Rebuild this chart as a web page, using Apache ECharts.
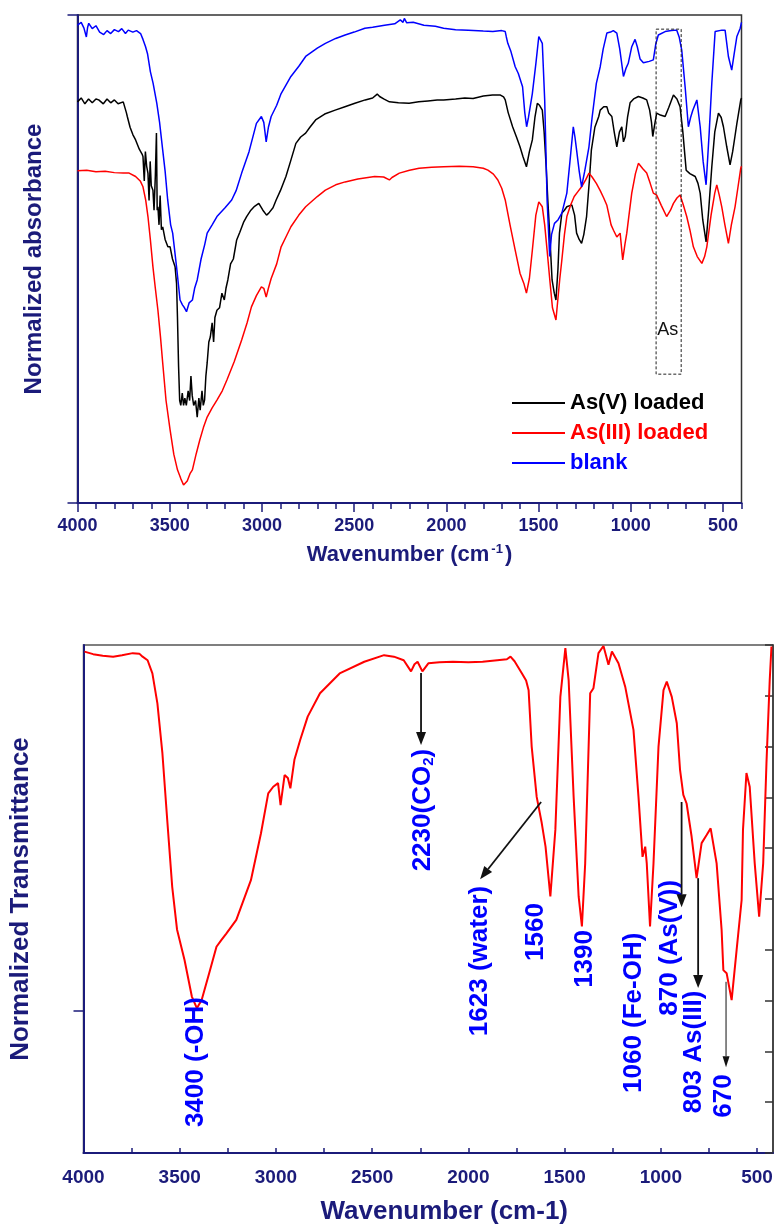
<!DOCTYPE html>
<html><head><meta charset="utf-8">
<script src="https://cdn.jsdelivr.net/npm/echarts@6/dist/echarts.min.js"></script>
<style>html,body{margin:0;padding:0;background:#fff}#c{width:774px;height:1230px}</style>
</head><body><div id="c"></div>
<script>
// ---------- DATA (wavenumber cm-1, normalized value) ----------
const asVLoaded = [[4000,0.822],[3980,0.830],[3960,0.818],[3940,0.828],[3920,0.820],[3900,0.828],[3885,0.826],[3860,0.818],[3840,0.828],[3820,0.820],[3800,0.826],[3780,0.818],[3752,0.822],[3742,0.825],[3735,0.80],[3730,0.792],[3715,0.77],[3700,0.755],[3685,0.744],[3665,0.725],[3650,0.715],[3645,0.710],[3638,0.66],[3632,0.72],[3625,0.69],[3618,0.676],[3612,0.62],[3606,0.70],[3600,0.65],[3591,0.641],[3585,0.60],[3578,0.67],[3572,0.758],[3568,0.60],[3564,0.607],[3558,0.57],[3552,0.63],[3545,0.56],[3538,0.566],[3525,0.54],[3510,0.525],[3498,0.525],[3485,0.50],[3471,0.484],[3463,0.45],[3458,0.38],[3452,0.28],[3446,0.21],[3440,0.20],[3432,0.225],[3425,0.20],[3418,0.215],[3410,0.20],[3400,0.23],[3392,0.21],[3385,0.26],[3378,0.22],[3370,0.20],[3360,0.21],[3351,0.176],[3342,0.215],[3335,0.19],[3325,0.23],[3318,0.20],[3311,0.211],[3304,0.26],[3297,0.287],[3288,0.33],[3280,0.34],[3270,0.369],[3262,0.33],[3255,0.38],[3244,0.395],[3230,0.40],[3217,0.430],[3204,0.416],[3195,0.44],[3185,0.457],[3170,0.49],[3155,0.50],[3137,0.539],[3120,0.555],[3100,0.575],[3083,0.587],[3060,0.60],[3040,0.608],[3017,0.614],[2995,0.60],[2975,0.59],[2963,0.594],[2940,0.605],[2923,0.621],[2900,0.64],[2870,0.669],[2845,0.70],[2816,0.737],[2790,0.75],[2763,0.758],[2740,0.77],[2709,0.785],[2660,0.797],[2603,0.805],[2550,0.812],[2496,0.819],[2440,0.826],[2400,0.830],[2375,0.838],[2362,0.833],[2340,0.828],[2309,0.822],[2260,0.820],[2202,0.819],[2150,0.822],[2100,0.824],[2050,0.826],[2015,0.826],[1950,0.828],[1900,0.830],[1855,0.829],[1800,0.834],[1750,0.836],[1707,0.836],[1690,0.832],[1681,0.826],[1665,0.80],[1641,0.771],[1620,0.75],[1601,0.730],[1585,0.71],[1566,0.689],[1550,0.72],[1534,0.744],[1520,0.79],[1507,0.819],[1495,0.815],[1480,0.805],[1470,0.76],[1459,0.689],[1450,0.62],[1440,0.553],[1427,0.457],[1415,0.43],[1406,0.416],[1395,0.48],[1387,0.553],[1374,0.594],[1360,0.60],[1347,0.607],[1320,0.611],[1305,0.59],[1294,0.553],[1280,0.54],[1267,0.532],[1255,0.55],[1240,0.587],[1225,0.66],[1214,0.723],[1195,0.77],[1174,0.792],[1166,0.805],[1147,0.812],[1130,0.812],[1120,0.799],[1103,0.792],[1090,0.76],[1076,0.730],[1062,0.76],[1049,0.771],[1040,0.74],[1030,0.751],[1018,0.79],[1004,0.820],[985,0.828],[959,0.833],[935,0.83],[914,0.826],[898,0.805],[888,0.78],[881,0.751],[873,0.77],[860,0.799],[840,0.795],[814,0.792],[795,0.81],[769,0.836],[750,0.828],[733,0.812],[718,0.76],[700,0.682],[680,0.675],[651,0.669],[636,0.655],[624,0.635],[610,0.58],[592,0.535],[578,0.60],[561,0.689],[545,0.76],[525,0.799],[510,0.79],[498,0.771],[480,0.73],[462,0.693],[448,0.72],[436,0.75],[425,0.778],[404,0.826],[400,0.83]];

const asIIILoaded = [[4000,0.681],[3950,0.682],[3900,0.679],[3850,0.680],[3800,0.677],[3752,0.676],[3720,0.676],[3685,0.669],[3660,0.66],[3645,0.648],[3630,0.62],[3618,0.587],[3605,0.54],[3591,0.484],[3578,0.44],[3564,0.395],[3550,0.34],[3538,0.287],[3520,0.21],[3498,0.150],[3478,0.10],[3458,0.068],[3440,0.05],[3425,0.037],[3417,0.033],[3405,0.045],[3390,0.06],[3377,0.068],[3357,0.10],[3337,0.129],[3317,0.155],[3297,0.176],[3270,0.195],[3244,0.211],[3215,0.23],[3190,0.252],[3150,0.29],[3110,0.334],[3080,0.37],[3057,0.402],[3030,0.425],[3003,0.443],[2990,0.44],[2977,0.422],[2965,0.44],[2950,0.46],[2920,0.49],[2896,0.525],[2870,0.545],[2843,0.566],[2800,0.59],[2763,0.607],[2700,0.628],[2656,0.641],[2600,0.652],[2549,0.658],[2480,0.664],[2389,0.669],[2340,0.668],[2309,0.662],[2295,0.667],[2255,0.676],[2200,0.682],[2148,0.686],[2080,0.688],[2015,0.689],[1930,0.690],[1855,0.689],[1800,0.686],[1775,0.682],[1745,0.674],[1721,0.662],[1700,0.645],[1681,0.621],[1655,0.57],[1627,0.518],[1601,0.471],[1580,0.45],[1566,0.430],[1550,0.46],[1534,0.518],[1515,0.59],[1499,0.617],[1490,0.615],[1480,0.607],[1467,0.57],[1454,0.518],[1440,0.46],[1425,0.40],[1406,0.375],[1395,0.42],[1385,0.46],[1374,0.498],[1360,0.55],[1347,0.587],[1327,0.61],[1307,0.628],[1287,0.638],[1267,0.648],[1245,0.662],[1227,0.676],[1210,0.668],[1187,0.655],[1166,0.64],[1147,0.625],[1130,0.61],[1107,0.57],[1094,0.559],[1076,0.545],[1058,0.553],[1044,0.498],[1032,0.53],[1022,0.553],[1010,0.59],[995,0.635],[975,0.675],[959,0.696],[935,0.685],[914,0.676],[895,0.655],[878,0.635],[860,0.631],[835,0.61],[806,0.587],[785,0.60],[769,0.614],[750,0.625],[733,0.631],[715,0.61],[697,0.587],[680,0.56],[661,0.525],[640,0.505],[615,0.491],[600,0.505],[588,0.525],[565,0.59],[545,0.635],[534,0.652],[520,0.63],[507,0.607],[490,0.57],[471,0.532],[455,0.57],[435,0.607],[420,0.645],[404,0.686],[400,0.69]];

const blank = [[4000,0.979],[3980,0.985],[3965,0.973],[3952,0.955],[3945,0.975],[3939,0.983],[3920,0.972],[3900,0.978],[3880,0.965],[3858,0.960],[3840,0.968],[3820,0.962],[3800,0.970],[3778,0.966],[3760,0.972],[3740,0.962],[3725,0.969],[3700,0.965],[3680,0.968],[3658,0.962],[3645,0.950],[3631,0.935],[3620,0.92],[3605,0.884],[3590,0.86],[3570,0.819],[3555,0.78],[3538,0.723],[3525,0.68],[3511,0.621],[3495,0.57],[3484,0.553],[3463,0.484],[3444,0.416],[3431,0.406],[3420,0.40],[3409,0.392],[3395,0.41],[3377,0.416],[3365,0.44],[3351,0.457],[3330,0.50],[3310,0.53],[3297,0.553],[3270,0.57],[3244,0.587],[3200,0.605],[3164,0.621],[3140,0.64],[3110,0.676],[3070,0.72],[3030,0.778],[3003,0.792],[2990,0.78],[2977,0.740],[2965,0.77],[2950,0.792],[2920,0.815],[2896,0.839],[2843,0.874],[2800,0.895],[2763,0.915],[2700,0.932],[2656,0.942],[2600,0.952],[2549,0.959],[2500,0.965],[2442,0.973],[2400,0.975],[2335,0.979],[2280,0.982],[2250,0.99],[2235,0.985],[2228,0.993],[2215,0.984],[2180,0.985],[2122,0.979],[2060,0.977],[2015,0.973],[1950,0.970],[1881,0.969],[1800,0.967],[1748,0.966],[1700,0.968],[1681,0.966],[1675,0.955],[1667,0.942],[1650,0.925],[1627,0.894],[1610,0.880],[1587,0.853],[1575,0.80],[1565,0.771],[1555,0.79],[1534,0.839],[1515,0.90],[1499,0.956],[1490,0.952],[1480,0.942],[1467,0.826],[1454,0.621],[1440,0.505],[1430,0.55],[1414,0.573],[1395,0.58],[1374,0.594],[1347,0.635],[1330,0.70],[1312,0.771],[1303,0.75],[1294,0.723],[1280,0.68],[1267,0.648],[1250,0.68],[1227,0.730],[1210,0.79],[1187,0.860],[1166,0.894],[1150,0.93],[1130,0.963],[1110,0.965],[1095,0.968],[1076,0.963],[1060,0.93],[1040,0.874],[1027,0.89],[1014,0.901],[995,0.935],[977,0.95],[965,0.935],[950,0.91],[932,0.902],[900,0.905],[878,0.908],[865,0.94],[851,0.959],[814,0.966],[780,0.968],[751,0.969],[738,0.955],[724,0.928],[705,0.85],[688,0.771],[676,0.79],[664,0.805],[642,0.826],[624,0.771],[608,0.70],[592,0.652],[575,0.76],[561,0.860],[543,0.966],[506,0.969],[489,0.969],[471,0.915],[453,0.887],[440,0.92],[425,0.956],[407,0.973],[400,0.985]];

const treated = [[3995,0.987],[3950,0.982],[3900,0.979],[3846,0.977],[3800,0.980],[3744,0.984],[3710,0.983],[3693,0.977],[3667,0.970],[3642,0.944],[3616,0.885],[3590,0.787],[3565,0.656],[3539,0.524],[3514,0.440],[3475,0.380],[3437,0.308],[3411,0.285],[3386,0.301],[3347,0.354],[3309,0.406],[3284,0.419],[3258,0.432],[3206,0.459],[3130,0.537],[3078,0.629],[3040,0.708],[3014,0.721],[2989,0.728],[2976,0.685],[2955,0.744],[2938,0.738],[2925,0.718],[2904,0.774],[2874,0.813],[2835,0.859],[2771,0.905],[2669,0.944],[2541,0.967],[2438,0.980],[2387,0.977],[2336,0.970],[2298,0.948],[2280,0.962],[2264,0.967],[2239,0.948],[2208,0.964],[2150,0.966],[2080,0.967],[2000,0.966],[1926,0.967],[1850,0.970],[1800,0.972],[1781,0.977],[1760,0.968],[1723,0.945],[1700,0.930],[1687,0.911],[1671,0.800],[1645,0.701],[1619,0.650],[1599,0.603],[1574,0.505],[1548,0.636],[1522,0.898],[1496,0.994],[1479,0.931],[1453,0.701],[1427,0.505],[1410,0.446],[1393,0.570],[1367,0.905],[1350,0.915],[1324,0.984],[1298,0.998],[1272,0.961],[1254,0.987],[1220,0.964],[1185,0.918],[1142,0.833],[1116,0.701],[1095,0.583],[1081,0.603],[1073,0.570],[1056,0.446],[1038,0.570],[1012,0.800],[986,0.911],[969,0.928],[943,0.898],[917,0.846],[900,0.754],[883,0.705],[866,0.688],[840,0.623],[814,0.541],[788,0.610],[762,0.626],[741,0.639],[710,0.570],[684,0.439],[675,0.360],[658,0.354],[632,0.301],[606,0.400],[580,0.498],[573,0.636],[555,0.748],[538,0.721],[512,0.570],[489,0.465],[468,0.570],[451,0.767],[434,0.931],[425,0.997]];

const topLabelTicks = [500,1000,1500,2000,2500,3000,3500,4000];
const bottomTickVals = [500,750,1000,1250,1500,1750,2000,2250,2500,2750,3000,3250,3500,3750,4000];
const legendNames = ['As(V) loaded','As(III) loaded','blank'];

// annotation texts: [text, wavenumber, value] (bottom chart, label centres)
const peakLabels = [
  ['3400 (-OH)', 3415, 0.179],
  ['2230(CO{s|2})', 2235, 0.675],
  ['1623 (water)', 1939, 0.378],
  ['1560', 1648, 0.435],
  ['1390', 1393, 0.382],
  ['1060 (Fe-OH)', 1138, 0.276],
  ['870 (As(V))', 951, 0.404],
  ['803 As(III)', 827, 0.199],
  ['670', 671, 0.112]
];
// arrows: [fromWn, fromVal, toWn, toVal, thin]
const peakArrows = [
  [2246, 0.945, 2246, 0.803, 0],
  [1622, 0.691, 1939, 0.539, 0],
  [892, 0.691, 892, 0.484, 0],
  [806, 0.541, 806, 0.325, 0],
  [661, 0.337, 661, 0.169, 1]
];
const asBox = [863, 0.971, 727, 0.264];

// ---------- CHART ----------
const NAVY = '#1b1b7a';
const FONT = '"Liberation Sans", Arial, sans-serif';
const chart = echarts.init(document.getElementById('c'), null, {renderer:'canvas'});
const lbl = (size) => ({color: NAVY, fontFamily: FONT, fontWeight: 'bold', fontSize: size});
const plain = (v) => String(v);

chart.setOption({
  animation: false,
  backgroundColor: '#fff',
  grid: [
    {left: 77.5, top: 15, width: 664, height: 488, show: true, borderColor: '#333', borderWidth: 1.5, backgroundColor: 'transparent', outerBoundsMode: 'none', containLabel: false},
    {left: 83.5, top: 645, width: 689.5, height: 508, show: true, borderColor: '#555', borderWidth: 1.5, backgroundColor: 'transparent', outerBoundsMode: 'none', containLabel: false}
  ],
  legend: {
    data: [
      {name: legendNames[0], textStyle: {color: '#000'}},
      {name: legendNames[1], textStyle: {color: '#ff0000'}},
      {name: legendNames[2], textStyle: {color: '#0000ff'}}
    ],
    orient: 'vertical', left: 507, top: 387, itemWidth: 53, itemHeight: 2, itemGap: 8,
    icon: 'rect', selectedMode: false,
    textStyle: {fontFamily: FONT, fontWeight: 'bold', fontSize: 22}
  },
  xAxis: [
    {gridIndex: 0, type: 'value', min: 400, max: 4000, inverse: true, position: 'bottom',
     axisLine: {show: true, lineStyle: {color: NAVY, width: 2}},
     axisTick: {show: true, customValues: topLabelTicks, length: 9, lineStyle: {color: NAVY, width: 1.5}},
     axisLabel: {customValues: topLabelTicks, formatter: plain, margin: 14, ...lbl(18)},
     splitLine: {show: false},
     name: '{t|Wavenumber (cm}{s|-1}{t|)}', nameLocation: 'middle', nameGap: 40,
     nameTextStyle: {rich: {t: {...lbl(22)}, s: {...lbl(13), verticalAlign: 'top', padding: [0, 2, 10, 2]}}}},
    {gridIndex: 0, type: 'value', min: 400, max: 4000, interval: 100, inverse: true, position: 'bottom', offset: 0,
     axisLine: {show: false}, axisLabel: {show: false}, splitLine: {show: false},
     axisTick: {show: true, length: 6, lineStyle: {color: NAVY, width: 1.5}}},
    {gridIndex: 1, type: 'value', min: 417, max: 4000, inverse: true, position: 'bottom',
     axisLine: {show: true, lineStyle: {color: NAVY, width: 2}},
     axisTick: {show: true, inside: true, customValues: bottomTickVals, length: 5, lineStyle: {color: NAVY, width: 1.5}},
     axisLabel: {customValues: topLabelTicks, formatter: plain, margin: 15, ...lbl(19)},
     splitLine: {show: false},
     name: 'Wavenumber (cm-1)', nameLocation: 'middle', nameGap: 46,
     nameTextStyle: {...lbl(26), padding: [0, 0, 0, 32]}}
  ],
  yAxis: [
    {gridIndex: 0, type: 'value', min: 0, max: 1, interval: 1,
     axisLine: {show: true, lineStyle: {color: NAVY, width: 2}},
     axisTick: {show: true, length: 10, lineStyle: {color: NAVY, width: 1.5}},
     axisLabel: {show: false}, splitLine: {show: false},
     name: 'Normalized absorbance', nameLocation: 'middle', nameGap: 31, nameRotate: 90,
     nameTextStyle: lbl(24)},
    {gridIndex: 1, type: 'value', min: 0, max: 1,
     axisLine: {show: true, lineStyle: {color: NAVY, width: 2}},
     axisTick: {show: true, customValues: [0.28], length: 10, lineStyle: {color: NAVY, width: 1.5}},
     axisLabel: {show: false}, splitLine: {show: false},
     name: 'Normalized Transmittance', nameLocation: 'middle', nameGap: 50, nameRotate: 90,
     nameTextStyle: lbl(26)},
    {gridIndex: 1, type: 'value', min: 0, max: 1, interval: 0.1, position: 'right',
     axisLine: {show: true, lineStyle: {color: '#333', width: 1.5}},
     axisTick: {show: true, inside: true, length: 8, lineStyle: {color: '#333', width: 1.5}},
     axisLabel: {show: false}, splitLine: {show: false}}
  ],
  series: [
    {name: legendNames[0], type: 'line', xAxisIndex: 0, yAxisIndex: 0, data: asVLoaded, showSymbol: false, color: '#000', lineStyle: {width: 1.5, color: '#000'}},
    {name: legendNames[1], type: 'line', xAxisIndex: 0, yAxisIndex: 0, data: asIIILoaded, showSymbol: false, color: '#ff0000', lineStyle: {width: 1.5, color: '#ff0000'}},
    {name: legendNames[2], type: 'line', xAxisIndex: 0, yAxisIndex: 0, data: blank, showSymbol: false, color: '#0000ff', lineStyle: {width: 1.5, color: '#0000ff'}},
    {name: 'treated', type: 'line', xAxisIndex: 2, yAxisIndex: 1, data: treated, showSymbol: false, color: '#ff0000', lineStyle: {width: 2, color: '#ff0000'}}
  ]
});

// ---------- ANNOTATIONS (positioned through the axes) ----------
const toTopPx = (wn, v) => chart.convertToPixel({xAxisIndex: 0, yAxisIndex: 0}, [wn, v]);
const toBotPx = (wn, v) => chart.convertToPixel({xAxisIndex: 2, yAxisIndex: 1}, [wn, v]);
function arrow(p1, p2, w, head, hw) {
  const dx = p2[0]-p1[0], dy = p2[1]-p1[1], L = Math.hypot(dx, dy), ux = dx/L, uy = dy/L;
  const bx = p2[0]-ux*head, by = p2[1]-uy*head;
  return [
    {type: 'line', shape: {x1: p1[0], y1: p1[1], x2: bx, y2: by}, style: {stroke: '#111', lineWidth: w}, z: 20},
    {type: 'polygon', shape: {points: [[p2[0], p2[1]], [bx-uy*hw, by+ux*hw], [bx+uy*hw, by-ux*hw]]}, style: {fill: '#111'}, z: 20}
  ];
}
const g = [];
const b1 = toTopPx(asBox[0], asBox[1]), b2 = toTopPx(asBox[2], asBox[3]);
g.push({type: 'rect', shape: {x: b1[0], y: b1[1], width: b2[0]-b1[0], height: b2[1]-b1[1]},
  style: {fill: 'none', stroke: '#222', lineWidth: 1, lineDash: [3, 2]}, z: 20});
const asPos = toTopPx(857, 0.355);
g.push({type: 'text', x: asPos[0], y: asPos[1], z: 20,
  style: {text: 'As', fill: '#111', fontFamily: FONT, fontSize: 18, align: 'left', verticalAlign: 'middle'}});
peakLabels.forEach(([t, wn, v]) => {
  const p = toBotPx(wn, v);
  g.push({type: 'text', x: p[0], y: p[1], rotation: Math.PI/2, z: 20,
    style: {text: t, fill: '#0000ff', fontFamily: FONT, fontWeight: 'bold', fontSize: 26, align: 'center', verticalAlign: 'middle',
      rich: {s: {fill: '#0000ff', fontFamily: FONT, fontWeight: 'bold', fontSize: 15, padding: [12, 0, 0, 0]}}}});
});
peakArrows.forEach(([w1, v1, w2, v2, thin]) => {
  g.push(...arrow(toBotPx(w1, v1), toBotPx(w2, v2), thin ? 1 : 1.8, thin ? 11 : 13, thin ? 3.5 : 5));
});
chart.setOption({graphic: g});
</script>
</body></html>
